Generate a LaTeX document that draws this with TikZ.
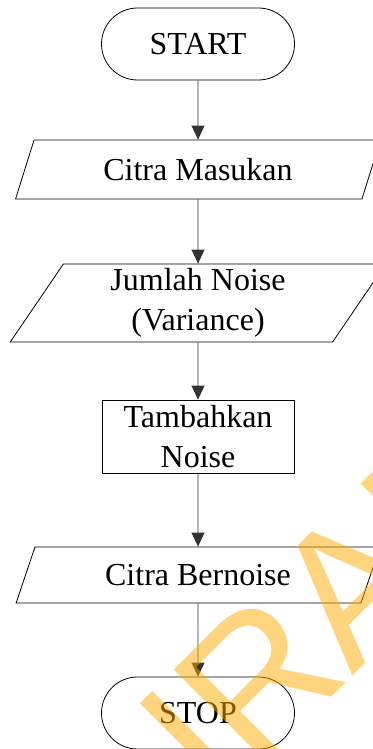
\documentclass[tikz,border=0pt]{standalone}
\usepackage{fontspec}
\setmainfont{Liberation Serif}
\newfontfamily\wmfont{Liberation Sans}
\usetikzlibrary{arrows.meta,shapes.geometric}
\definecolor{wmorange}{RGB}{255,170,0}

\begin{document}
\begin{tikzpicture}[x=1pt,y=-1pt,
  every node/.style={font=\fontsize{32}{40}\selectfont, align=center, inner sep=0pt},
  term/.style={draw, line width=0.8pt, rounded corners=36pt, minimum width=193pt, minimum height=72pt},
  proc/.style={draw, line width=0.8pt, minimum width=192pt, minimum height=73pt},
  io/.style={draw, line width=0.8pt, trapezium, trapezium stretches=true,
             trapezium left angle=#1, trapezium right angle=180-#1},
  flow/.style={-{Triangle[width=13pt,length=14pt]}, line width=0.9pt, draw=black!80}]

  \useasboundingbox (0,0) rectangle (372,749);

  % flowchart steps
  \node[term] (start) at (198,44) {START};
  \node[io=64.6, minimum width=365pt, minimum height=59pt] (input) at (198,169.5) {Citra Masukan};
  \node[io=63.4, minimum width=376pt, minimum height=78pt] (noise) at (198,303) {Jumlah Noise\\(Variance)};
  \node[proc] (add) at (198,436.5) {Tambahkan\\Noise};
  \node[io=63.4, minimum width=364pt, minimum height=56pt] (output) at (198,575) {Citra Bernoise};
  \node[term] (stop) at (198,713) {STOP};

  % connectors
  \draw[flow] (start) -- (input);
  \draw[flow] (input) -- (noise);
  \draw[flow] (noise) -- (add);
  \draw[flow] (add) -- (output);
  \draw[flow] (output) -- (stop);

  % diagonal watermark
  \begin{scope}
    \clip (0,0) rectangle (372,749);
    \node[rotate=45, anchor=base west, text=wmorange, opacity=0.5,
          font=\wmfont\fontsize{190}{190}\selectfont] (mark) at (69,960.4) {SURABAYA};
  \end{scope}
\end{tikzpicture}
\end{document}
